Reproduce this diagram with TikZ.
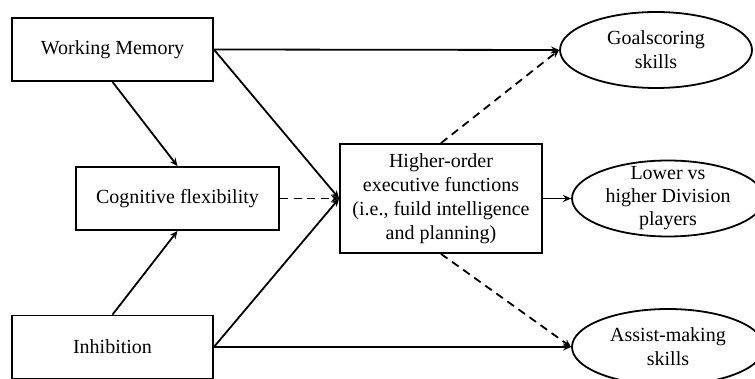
\documentclass[tikz,border=0pt]{standalone}
\usepackage{fontspec}
\setmainfont{Liberation Serif}
\usetikzlibrary{shapes.geometric,arrows.meta}
\begin{document}
\begin{tikzpicture}[x=0.5pt,y=-0.5pt,
  every node/.style={font=\fontsize{10}{12}\selectfont},
  boxnode/.style={draw,line width=0.9pt,minimum height=31.5pt,inner sep=0pt,align=center},
  ellnode/.style={draw,ellipse,line width=0.9pt,minimum width=96pt,minimum height=38pt,inner sep=0pt},
  conn/.style={line width=0.9pt,-{Stealth[length=4pt,width=3.5pt]}},
  dconn/.style={conn,dash pattern=on 4pt off 2.8pt}]
\useasboundingbox (0,0) rectangle (755,379);
\node[boxnode,minimum width=100.5pt] (wm) at (112.5,49.5) {Working Memory};
\node[boxnode,minimum width=101.5pt] (cf) at (177.5,198.5) {Cognitive flexibility};
\node[boxnode,minimum width=100.5pt] (inh) at (112.5,347) {Inhibition};
\node[boxnode,minimum width=101pt,minimum height=54.5pt] (ho) at (441,198.5) {Higher-order\\executive functions\\(i.e., fuild intelligence\\and planning)};
\node[ellnode] (gs) at (656,50) {};
\node[align=center] (gst) at (gs.center) {Goalscoring\\skills};
\node[ellnode] (lh) at (668,198.5) {};
\node[align=center,font=\fontsize{10}{11.5}\selectfont] (lht) at (lh.center) {Lower vs\\higher Division\\players};
\node[ellnode] (am) at (668,347) {};
\node[align=center] (amt) at (am.center) {Assist-making\\skills};
\draw[conn] (wm.east) -- (gs.west);
\draw[conn] (wm.east) -- (ho.west);
\draw[conn] (inh.east) -- (ho.west);
\draw[conn] (inh.east) -- (am.west);
\draw[conn] (wm.south) -- (cf.north);
\draw[conn] (inh.north) -- (cf.south);
\draw[dconn] (cf.east) -- (ho.west);
\draw[dconn] (ho.north) -- (gs.west);
\draw[dconn] (ho.south) -- (am.west);
\draw[conn] (ho.east) -- (lh.west);
\end{tikzpicture}
\end{document}
